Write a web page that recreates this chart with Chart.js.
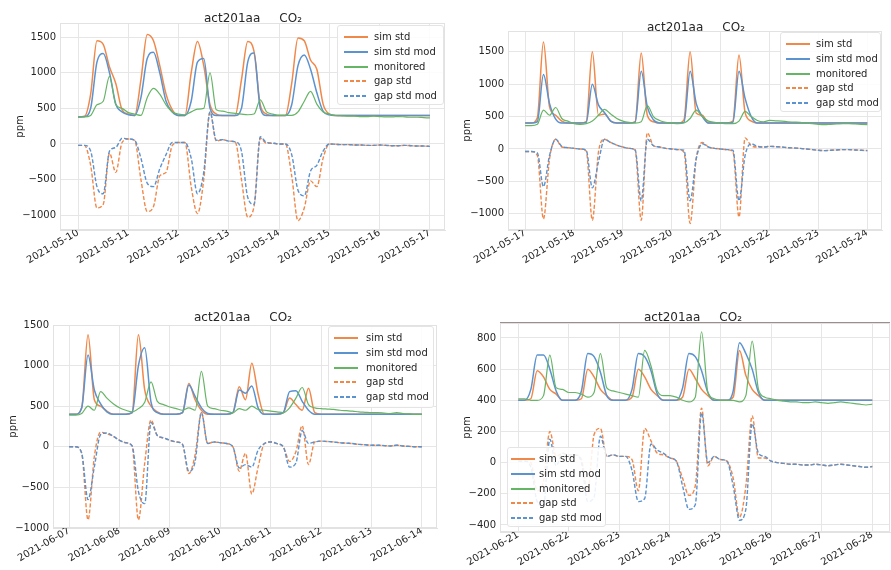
<!DOCTYPE html>
<html><head><meta charset="utf-8">
<script src="https://cdn.jsdelivr.net/npm/chart.js@4.4.0/dist/chart.umd.min.js"></script>
<style>
html,body{margin:0;padding:0;background:#fff;width:891px;height:570px;overflow:hidden;position:relative;font-family:"DejaVu Sans",sans-serif;}
.cv{position:absolute;}
.ttl{position:absolute;font-size:12px;color:#262626;white-space:pre;transform:translate(-50%,-50%);}
.leg{position:absolute;background:rgba(255,255,255,0.88);border:1px solid #e4e4e4;border-radius:3px;box-sizing:border-box;font-size:10px;color:#262626;}
.row{position:absolute;left:0;height:12px;line-height:12px;white-space:nowrap;}
.sw{position:absolute;top:5px;width:24px;height:2px;}
.tx{position:absolute;top:0;}
.topline{position:absolute;height:0;border-top:1.5px solid #9c8e8b;}
</style></head><body>
<script>
// ---- data (3-hour samples, days 0..7) ----
const STEP_DAYS = 0.125;
const seriesNames = ['sim std', 'sim std mod', 'monitored', 'gap std', 'gap std mod'];
const titleText = 'act201aa     CO\u2082';

const p1Dates = ['2021-05-10','2021-05-11','2021-05-12','2021-05-13','2021-05-14','2021-05-15','2021-05-16','2021-05-17'];
const p1YTicks = [-1000,-500,0,500,1000,1500];
const p1SimStd = [380,385,700,1450,1400,1080,850,480, 420,400,900,1540,1450,1100,700,480, 400,400,1000,1440,1100,550,420,400, 400,400,900,1440,1300,550,420,400, 400,400,850,1490,1450,1180,1050,560, 420,400,400,400,400,400,400,400,400,400,400,400,400,400,400,400,400];
const p1SimMod = [380,385,500,1150,1270,1000,560,450, 410,400,650,1200,1290,1000,600,450, 400,400,600,1150,1200,500,400,400, 400,400,500,1150,1280,500,400,400, 400,400,550,1100,1250,1050,720,460, 410,400,400,400,400,400,400,400,400,400,400,400,400,400,400,400,400];
const p1Mon = [380,380,400,550,600,950,550,500, 440,420,400,650,780,700,550,450, 420,410,450,490,500,1000,480,460, 440,430,420,410,420,620,450,420, 400,400,400,450,600,740,560,450, 420,400,395,390,390,385,385,390,385,380,380,385,380,375,375,370,365];
const p1GapStd = [-20,-20,-300,-900,-850,-130,-400,20, 70,50,-500,-950,-880,-450,-400,-20, 20,20,-600,-980,-500,450,40,60, 40,30,-500,-1030,-880,80,10,10, 0,0,-450,-1080,-900,-520,-600,-200, 0,-5,-10,-10,-15,-15,-20,-20,-15,-20,-25,-25,-20,-25,-30,-30,-35];
const p1GapMod = [-20,-20,-100,-600,-700,-100,-50,80, 70,50,-200,-550,-600,-350,-150,20, 20,20,-200,-700,-400,450,50,60, 40,30,-100,-750,-850,100,20,10, 0,0,-150,-650,-730,-380,-300,-100, 0,-5,-10,-10,-15,-15,-20,-20,-15,-20,-25,-25,-20,-25,-30,-30,-35];

const p2Dates = ['2021-05-17','2021-05-18','2021-05-19','2021-05-20','2021-05-21','2021-05-22','2021-05-23','2021-05-24'];
const p2YTicks = [-1000,-500,0,500,1000,1500];
const p2SimStd = [400,400,480,1650,650,520,430,400, 400,400,420,1500,520,540,430,400, 400,400,420,1480,520,420,400,400, 400,400,450,1500,550,520,400,400, 400,400,430,1450,560,430,400,400, 400,400,400,400,400,400,400,400,400,400,400,400,400,400,400,400,400];
const p2SimMod = [400,400,420,1150,700,460,400,400, 400,400,410,1000,680,560,430,400, 400,400,410,1200,650,450,400,400, 400,400,410,1200,700,500,400,400, 400,400,410,1200,780,500,400,400, 400,400,400,400,400,400,400,400,400,400,400,400,400,400,400,400,400];
const p2Mon = [360,360,380,600,520,640,470,430, 390,380,390,430,520,610,540,470, 430,410,400,420,670,500,440,410, 400,390,400,470,600,500,430,410, 400,390,390,430,580,500,440,420, 440,435,430,420,415,410,400,390,380,375,380,385,390,390,385,380,375];
const p2GapStd = [-40,-40,-100,-1080,-150,150,30,20, 10,0,-30,-1100,-50,150,100,60, 30,10,-20,-1100,250,50,30,10, 0,-10,-50,-1150,-150,100,30,10, 0,-10,-40,-1050,170,50,30,30, 40,35,30,20,15,10,0,-10,-20,-25,-20,-15,-10,-10,-15,-20,-25];
const p2GapMod = [-40,-40,-60,-580,-100,150,40,20, 10,0,-20,-600,-200,150,100,60, 30,10,-10,-800,150,50,30,10, 0,-10,-20,-800,-150,80,30,10, 0,-10,-20,-800,-100,80,40,30, 40,35,30,20,15,10,0,-10,-20,-25,-20,-15,-10,-10,-15,-20,-25];

const p3Dates = ['2021-06-07','2021-06-08','2021-06-09','2021-06-10','2021-06-11','2021-06-12','2021-06-13','2021-06-14'];
const p3YTicks = [-1000,-500,0,500,1000,1500];
const p3SimStd = [400,400,480,1380,580,500,440,400, 400,400,420,1380,700,500,430,400, 400,400,420,780,580,450,400,400, 400,400,420,740,580,1030,650,400, 400,400,420,600,520,450,720,420, 400,400,400,400,400,400,400,400,400,400,400,400,400,400,400,400,400];
const p3SimMod = [400,400,480,1130,700,530,430,400, 400,400,420,1000,1220,550,420,400, 400,400,420,760,620,480,410,400, 400,400,420,700,660,750,480,400, 400,400,420,680,690,560,450,400, 400,400,400,400,400,400,400,400,400,400,400,400,400,400,400,400,400];
const p3Mon = [390,390,410,500,450,680,600,530, 480,450,430,470,550,800,560,520, 490,470,450,480,450,930,500,470, 450,440,420,470,450,500,460,450, 440,430,420,480,600,730,520,480, 470,465,460,450,445,440,430,425,420,420,415,410,420,410,405,400,400];
const p3GapStd = [0,0,-80,-900,-120,180,160,130, 80,50,10,-900,-200,330,140,110, 80,60,30,-330,-100,420,40,60, 50,40,0,-300,-80,-580,-250,40, 60,40,0,-180,-60,260,-220,60, 70,65,60,50,45,40,30,25,20,20,15,10,20,10,5,0,0];
const p3GapMod = [0,0,-80,-650,-250,150,170,130, 80,50,10,-550,-700,300,140,110, 80,60,30,-300,-180,420,40,60, 50,40,0,-260,-220,-250,-40,40, 60,40,0,-250,-200,200,40,60, 70,65,60,50,45,40,30,25,20,20,15,10,20,10,5,0,0];

const p4Dates = ['2021-06-21','2021-06-22','2021-06-23','2021-06-24','2021-06-25','2021-06-26','2021-06-27','2021-06-28'];
const p4YTicks = [-400,-200,0,200,400,600,800];
const p4SimStd = [400,400,410,590,550,470,440,400, 400,400,410,600,550,470,430,400, 400,400,420,600,550,470,430,400, 400,400,420,600,540,470,430,400, 400,400,420,720,560,470,430,400, 400,400,400,400,400,400,400,400,400,400,400,400,400,400,400,400,400];
const p4SimMod = [400,400,470,690,690,600,460,400, 400,400,460,700,680,580,430,400, 400,400,470,700,680,590,440,400, 400,400,480,700,680,590,450,400, 400,400,460,770,700,600,450,400, 400,400,400,400,400,400,400,400,400,400,400,400,400,400,400,400,400];
const p4Mon = [410,410,400,400,430,690,480,470, 450,450,440,420,450,700,480,460, 450,440,430,420,720,620,460,430, 430,420,400,390,420,840,450,410, 400,400,400,390,430,780,470,420, 410,400,395,390,390,385,385,390,385,380,385,390,385,380,375,370,375];
const p4GapStd = [10,10,0,-180,-120,200,40,60, 50,50,20,-180,180,220,40,50, 40,40,20,-180,220,140,60,50, 30,10,-100,-210,-150,350,-20,40, 20,10,-100,-350,-150,300,30,30, 10,0,-5,-10,-10,-15,-15,-10,-15,-20,-15,-10,-15,-20,-25,-30,-25];
const p4GapMod = [10,10,-30,-250,-280,150,-20,60, 50,50,0,-250,-220,170,40,50, 40,40,-50,-250,-230,120,80,60, 30,10,-150,-300,-270,320,0,40, 20,10,-150,-370,-300,250,60,40, 10,0,-5,-10,-10,-15,-15,-10,-15,-20,-15,-10,-15,-20,-25,-30,-25];

// ---- styles ----
const colors = ['#f0884a', '#5b92d0', '#66b466', '#f0884a', '#5b92d0'];
const widths = [1.5, 1.5, 1.2, 1.4, 1.4];
const dashes = [[], [], [], [4, 2], [4, 2]];

const panels = [
  {left:0, top:13, w:452, h:257, yW:60, xH:40, xMin:-0.36, xMax:7.3, yMin:-1210, yMax:1700,
   yTicks:p1YTicks, dates:p1Dates, series:[p1SimStd,p1SimMod,p1Mon,p1GapStd,p1GapMod],
   tX:253, tY:18, ppmPad:14, leg:{left:337, top:25, w:107, h:80, sx:6, tx:36}},
  {left:446, top:21, w:443, h:249, yW:62, xH:40, xMin:-0.35, xMax:7.3, yMin:-1250, yMax:1820,
   yTicks:p2YTicks, dates:p2Dates, series:[p2SimStd,p2SimMod,p2Mon,p2GapStd,p2GapMod],
   tX:696, tY:27, ppmPad:15, leg:{left:780, top:32, w:101, h:80, sx:5, tx:35}},
  {left:0, top:315, w:444, h:253, yW:53, xH:40, xMin:-0.32, xMax:7.3, yMin:-1000, yMax:1500,
   yTicks:p3YTicks, dates:p3Dates, series:[p3SimStd,p3SimMod,p3Mon,p3GapStd,p3GapMod],
   tX:243, tY:317, ppmPad:7, leg:{left:328, top:326, w:106, h:82, sx:5, tx:37}},
  {left:446, top:313, w:451, h:255, yW:54, xH:36, xMin:-0.36, xMax:7.35, yMin:-445, yMax:896,
   yTicks:p4YTicks, dates:p4Dates, series:[p4SimStd,p4SimMod,p4Mon,p4GapStd,p4GapMod],
   tX:693, tY:317, ppmPad:15, leg:{left:507, top:447, w:99, h:80, sx:3, tx:31}, topLine:true}
];

Chart.defaults.font.family = '"DejaVu Sans", sans-serif';
Chart.defaults.color = '#262626';

const fmt = v => v < 0 ? '\u2212' + Math.abs(v) : String(v);

const framePlugin = {
  id: 'frame',
  beforeDatasetsDraw(chart) {
    const a = chart.chartArea, c = chart.ctx;
    c.save(); c.strokeStyle = '#e2e2e2'; c.lineWidth = 1;
    c.strokeRect(a.left + 0.5, a.top + 0.5, a.right - a.left - 1, a.bottom - a.top - 1);
    c.restore();
  }
};

panels.forEach(p => {
  const cv = document.createElement('canvas');
  cv.className = 'cv';
  cv.width = p.w; cv.height = p.h;
  cv.style.left = p.left + 'px'; cv.style.top = p.top + 'px';
  cv.style.width = p.w + 'px'; cv.style.height = p.h + 'px';
  document.body.appendChild(cv);

  new Chart(cv, {
    type: 'line',
    data: {
      datasets: p.series.map((vals, i) => ({
        label: seriesNames[i],
        data: vals.map((v, k) => ({x: k * STEP_DAYS, y: v})),
        borderColor: colors[i], borderWidth: widths[i], borderDash: dashes[i],
        pointRadius: 0, fill: false, cubicInterpolationMode: 'monotone',
        order: 5 - i
      }))
    },
    options: {
      responsive: false, animation: false, devicePixelRatio: 1,
      layout: {padding: {top: 10, left: 0, right: 7, bottom: 0}},
      plugins: {legend: {display: false}, tooltip: {enabled: false}},
      scales: {
        x: {
          type: 'linear', min: p.xMin, max: p.xMax,
          afterBuildTicks: s => { s.ticks = p.dates.map((d, i) => ({value: i})); },
          afterFit: s => { s.height = p.xH; },
          ticks: {autoSkip: false, minRotation: 30, maxRotation: 30, padding: -3,
                  font: {size: 10}, color: '#262626',
                  callback: (v, i) => p.dates[i]},
          grid: {color: '#e6e6e6', drawTicks: false},
          border: {color: '#e2e2e2'}
        },
        y: {
          min: p.yMin, max: p.yMax,
          afterBuildTicks: s => { s.ticks = p.yTicks.map(v => ({value: v})); },
          afterFit: s => { s.width = p.yW; },
          ticks: {padding: 4, font: {size: 10}, color: '#262626', callback: v => fmt(v)},
          grid: {color: '#e6e6e6', drawTicks: false},
          border: {color: '#e2e2e2'},
          title: {display: true, text: 'ppm', font: {size: 10}, color: '#262626',
                  padding: {top: p.ppmPad, bottom: 0}}
        }
      }
    },
    plugins: [framePlugin]
  });

  if (p.topLine) {
    const tl = document.createElement('div');
    tl.className = 'topline';
    tl.style.left = (p.left + p.yW) + 'px';
    tl.style.top = (p.top + 9) + 'px';
    tl.style.width = (p.w - p.yW - 7) + 'px';
    document.body.appendChild(tl);
  }

  const t = document.createElement('div');
  t.className = 'ttl'; t.textContent = titleText;
  t.style.left = p.tX + 'px'; t.style.top = p.tY + 'px';
  document.body.appendChild(t);

  const lg = document.createElement('div');
  lg.className = 'leg';
  lg.style.left = p.leg.left + 'px'; lg.style.top = p.leg.top + 'px';
  lg.style.width = p.leg.w + 'px'; lg.style.height = p.leg.h + 'px';
  seriesNames.forEach((name, i) => {
    const r = document.createElement('div');
    r.className = 'row';
    r.style.top = (5 + i * 14.8) + 'px';
    r.style.width = p.leg.w + 'px';
    const sw = document.createElement('span');
    sw.className = 'sw';
    sw.style.left = p.leg.sx + 'px';
    sw.style.background = i >= 3
      ? 'repeating-linear-gradient(90deg,' + colors[i] + ' 0 4px, transparent 4px 6px)'
      : colors[i];
    const tx = document.createElement('span');
    tx.className = 'tx'; tx.style.left = p.leg.tx + 'px'; tx.textContent = name;
    r.appendChild(sw); r.appendChild(tx);
    lg.appendChild(r);
  });
  document.body.appendChild(lg);
});
</script>
</body></html>
